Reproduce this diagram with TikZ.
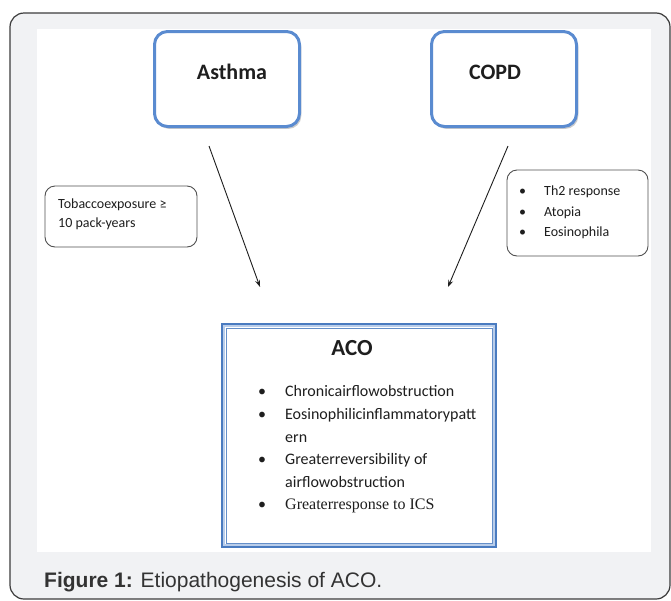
\documentclass[tikz,border=0pt]{standalone}
\usepackage{fontspec}
\setmainfont{Carlito}
\newfontfamily\capfont{Liberation Sans}
\newfontfamily\serfont{Liberation Serif}
\usetikzlibrary{arrows.meta,calc}
\definecolor{pagegray}{HTML}{F1F2F4}
\definecolor{framebd}{HTML}{3C3C3C}
\definecolor{boxblue}{HTML}{5A8BD0}
\definecolor{acoblue}{HTML}{4A7BC0}
\definecolor{acolight}{HTML}{B9CDEA}
\definecolor{txt}{HTML}{1E1E1E}
\definecolor{captxt}{HTML}{333333}
\begin{document}
\begin{tikzpicture}[x=1pt,y=-1pt,
  bigbox/.style={draw=boxblue, line width=3pt, rounded corners=13pt, fill=white,
    minimum width=145pt, minimum height=95pt, inner sep=0pt,
    preaction={fill=black!45, opacity=.45, transform canvas={shift={(1.8pt,-2.4pt)}}}},
  notebox/.style={draw=framebd!90, line width=.9pt, rounded corners=10pt, fill=white, inner sep=0pt},
  boxtitle/.style={font=\fontsize{22}{24}\selectfont\bfseries, text=txt, inner sep=0pt},
  smalltxt/.style={font=\fontsize{14}{16}\selectfont, text=txt, inner sep=0pt, anchor=base west},
  listtxt/.style={font=\fontsize{16}{18}\selectfont, text=txt, inner sep=0pt, anchor=base west},
  arr/.style={draw=txt, line width=.9pt, -{Stealth[length=7pt,width=5pt]}}
]
\useasboundingbox (0,0) rectangle (671,600);
\fill[white] (0,0) rectangle (671,600);
% outer frame and white panel
\draw[fill=pagegray, draw=framebd, line width=1.2pt, rounded corners=14pt] (10,13) rectangle (670,599);
\fill[white] (37,29) rectangle (651,552);

% top boxes
\node[bigbox] (asthma) at (227,79) {};
\node[boxtitle] (asthmaT) at (232,72) {Asthma};
\node[bigbox] (copd) at (504,79) {};
\node[boxtitle] (copdT) at (495,72) {COPD};

% side notes
\node[notebox, minimum width=152pt, minimum height=61pt] (tob) at (121,216.5) {};
\node[smalltxt] (tob1) at (58,208) {Tobaccoexposure ≥};
\node[smalltxt] (tob2) at (58,227) {10 pack-years};

\node[notebox, minimum width=141pt, minimum height=86pt] (th) at (577.5,213) {};
\node[smalltxt] (th1) at (519,195) {\makebox[25pt][l]{•}Th2 response};
\node[smalltxt] (th2) at (519,216) {\makebox[25pt][l]{•}Atopia};
\node[smalltxt] (th3) at (519,236) {\makebox[25pt][l]{•}Eosinophila};

% ACO box
\node[draw=acoblue, line width=4pt, fill=white, minimum width=272pt, minimum height=221pt, inner sep=0pt] (aco) at (359,435.5) {};
\draw[acolight, line width=2pt] ($(aco.north west)+(3,3)$) rectangle ($(aco.south east)+(-3,-3)$);
\draw[acoblue!85, line width=.8pt] ($(aco.north west)+(5,5)$) rectangle ($(aco.south east)+(-5,-5)$);
\node[font=\fontsize{23}{25}\selectfont\bfseries, text=txt, inner sep=0pt] (acoT) at (352,348) {ACO};
\node[listtxt] (l1) at (258,396) {\makebox[27pt][l]{•}Chronicairflowobstruction};
\node[listtxt] (l2) at (258,419) {\makebox[27pt][l]{•}Eosinophilicinflammatorypatt};
\node[listtxt] (l2b) at (285,442) {ern};
\node[listtxt] (l3) at (258,464) {\makebox[27pt][l]{•}Greaterreversibility of};
\node[listtxt] (l3b) at (285,487) {airflowobstruction};
\node[listtxt] (l4) at (258,509) {\makebox[27pt][l]{•}{\serfont Greaterresponse to ICS}};

% arrows
\coordinate (a1s) at ($(asthma.south)+(-18,18)$);
\coordinate (a1e) at (260,287);
\coordinate (a2s) at ($(copd.south)+(4,18)$);
\coordinate (a2e) at (448,287);
\draw[arr] (a1s) -- (a1e);
\draw[arr] (a2s) -- (a2e);

% caption
\node[font=\capfont\fontsize{21}{24}\selectfont, text=captxt, anchor=base west, inner sep=0pt] (cap) at (44,587) {\textbf{Figure 1:} Etiopathogenesis of ACO.};
\end{tikzpicture}
\end{document}
